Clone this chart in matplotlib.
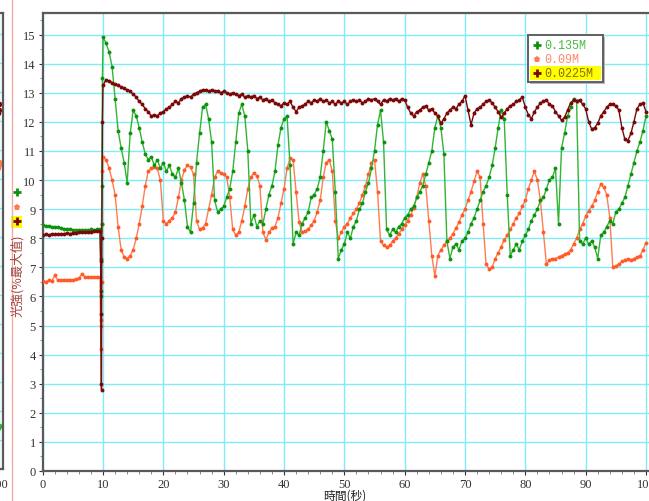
import numpy as np
import matplotlib.pyplot as plt
from matplotlib.patches import Rectangle
from matplotlib.lines import Line2D

######################################################################
# data: light intensity (% of max) vs time (s), three concentrations
######################################################################
t_pre = np.arange(0, 9.6, 0.5)
t_jump = [9.6, 9.65, 9.7, 9.75, 9.8, 9.9]
t_post = np.arange(10, 100.01, 0.5)

labels = ['0.135M', '0.09M', '0.0225M']

green_pre = [8.45, 8.43, 8.42, 8.40, 8.38, 8.37, 8.35, 8.33, 8.32, 8.30,
             8.29, 8.28, 8.27, 8.28, 8.29, 8.28, 8.30, 8.29, 8.30, 8.31]
green_jump = [7.3, 6.2, 6.0, 8.5, 9.8, 13.5]
green_post = [14.9, 14.7, 14.4, 13.9, 12.8, 11.7, 11.1, 10.6, 9.9, 11.6,
              12.4, 12.2, 11.8, 11.3, 10.9, 10.7, 10.8, 10.5, 10.7, 10.4,
              10.6, 10.3, 10.5, 10.2, 10.1, 10.4, 9.9, 9.3, 8.4, 8.2,
              9.2, 10.6, 11.6, 12.5, 12.6, 12.1, 11.3, 9.3, 8.9, 9.0,
              9.1, 9.4, 9.7, 10.3, 11.3, 12.3, 12.6, 12.2, 11.0, 8.5,
              8.8, 8.4, 8.6, 8.5, 9.0, 9.5, 9.8, 10.3, 11.2, 11.8,
              12.1, 12.2, 10.5, 7.8, 8.2, 8.1, 8.5, 8.7, 8.9, 9.4,
              9.5, 9.7, 10.1, 11.0, 12.0, 11.7, 11.4, 9.6, 7.3, 7.6,
              7.8, 8.2, 8.0, 8.4, 8.6, 9.0, 9.2, 9.6, 9.9, 10.4,
              11.0, 11.9, 12.4, 11.3, 8.3, 8.1, 8.3, 8.2, 8.4, 8.5,
              8.7, 8.8, 9.0, 9.1, 9.4, 9.6, 9.8, 10.2, 10.6, 11.0,
              11.8, 12.2, 11.8, 10.9, 7.9, 7.3, 7.7, 7.8, 7.6, 7.9,
              8.0, 8.2, 8.5, 8.7, 9.0, 9.3, 9.6, 9.8, 10.1, 10.5,
              11.1, 11.8, 12.4, 12.1, 9.5, 7.4, 7.6, 7.8, 7.6, 7.9,
              8.1, 8.3, 8.6, 8.8, 9.0, 9.3, 9.4, 9.7, 10.0, 10.1,
              10.4, 8.5, 11.1, 11.6, 12.2, 12.5, 12.8, 12.7, 7.9, 7.8,
              8.0, 7.8, 7.9, 7.7, 7.3, 8.1, 8.2, 8.4, 8.6, 8.5,
              8.9, 9.0, 9.2, 9.4, 9.8, 10.2, 10.6, 11.0, 11.3, 11.7,
              12.2]

orange_pre = [6.52, 6.50, 6.55, 6.52, 6.72, 6.56, 6.58, 6.55, 6.57, 6.58,
              6.56, 6.60, 6.62, 6.78, 6.66, 6.65, 6.66, 6.67, 6.66, 6.67]
orange_jump = [5.2, 4.2, 5.0, 6.5, 8.5, 10.3]
orange_post = [10.8, 10.7, 10.4, 10.0, 9.5, 8.4, 7.6, 7.35, 7.3, 7.4,
               7.6, 8.0, 8.5, 9.1, 9.8, 10.3, 10.4, 10.45, 10.4, 10.0,
               8.6, 8.5, 8.6, 8.7, 8.9, 9.4, 10.0, 10.35, 10.5, 10.45,
               10.2, 8.6, 8.3, 8.35, 8.5, 9.0, 9.5, 10.1, 10.3, 10.25,
               10.2, 10.1, 9.4, 8.3, 8.1, 8.2, 8.6, 9.1, 9.7, 10.1,
               10.25, 10.15, 9.8, 8.2, 7.95, 8.2, 8.35, 8.4, 8.7, 9.2,
               9.7, 10.4, 10.75, 10.7, 9.6, 8.55, 8.2, 8.25, 8.3, 8.45,
               8.6, 8.9, 9.3, 10.1, 10.6, 10.7, 10.3, 8.6, 8.0, 8.2,
               8.4, 8.5, 8.7, 8.85, 9.0, 9.2, 9.5, 9.8, 10.2, 10.6,
               10.7, 9.6, 7.9, 7.75, 7.7, 7.75, 7.9, 8.0, 8.15, 8.3,
               8.45, 8.6, 8.8, 9.05, 9.4, 9.9, 10.2, 9.8, 8.6, 7.4,
               6.7, 7.4, 7.6, 7.75, 7.9, 8.0, 8.15, 8.35, 8.55, 8.8,
               9.0, 9.3, 9.6, 9.95, 10.3, 10.1, 8.5, 7.1, 6.95, 7.0,
               7.3, 7.5, 7.7, 7.95, 8.1, 8.3, 8.5, 8.7, 8.85, 9.1,
               9.3, 9.7, 10.0, 10.3, 10.0, 9.3, 8.2, 7.1, 7.25, 7.3,
               7.3, 7.35, 7.4, 7.45, 7.5, 7.6, 7.8, 8.0, 8.3, 8.5,
               8.75, 8.95, 9.1, 9.3, 9.6, 9.85, 9.75, 9.5, 8.7, 7.0,
               7.05, 7.1, 7.2, 7.25, 7.3, 7.25, 7.3, 7.35, 7.4, 7.6,
               7.85]

red_pre = [8.12, 8.13, 8.12, 8.14, 8.13, 8.15, 8.14, 8.16, 8.17, 8.16,
           8.18, 8.19, 8.20, 8.21, 8.21, 8.22, 8.23, 8.24, 8.24, 8.25]
red_jump = [7.2, 5.4, 3.0, 2.8, 8.0, 12.0]
red_post = [13.25, 13.45, 13.4, 13.35, 13.3, 13.25, 13.2, 13.15, 13.1, 13.05,
            12.95, 12.85, 12.7, 12.6, 12.45, 12.35, 12.2, 12.25, 12.2, 12.3,
            12.35, 12.45, 12.5, 12.6, 12.7, 12.65, 12.8, 12.85, 12.9, 12.85,
            12.95, 13.0, 13.05, 13.1, 13.1, 13.05, 13.1, 13.05, 13.05, 13.0,
            13.05, 13.0, 12.95, 13.0, 12.95, 12.9, 12.95, 12.85, 12.9, 12.85,
            12.9, 12.8, 12.85, 12.75, 12.8, 12.7, 12.75, 12.65, 12.6, 12.55,
            12.65, 12.6, 12.7, 12.5, 12.35, 12.5, 12.55, 12.6, 12.7, 12.65,
            12.75, 12.7, 12.8, 12.7, 12.75, 12.65, 12.7, 12.6, 12.7, 12.65,
            12.7, 12.6, 12.7, 12.75, 12.7, 12.75, 12.65, 12.7, 12.8, 12.75,
            12.8, 12.7, 12.6, 12.75, 12.7, 12.8, 12.75, 12.8, 12.7, 12.8,
            12.75, 12.5, 12.3, 12.2, 12.35, 12.4, 12.5, 12.55, 12.4, 12.45,
            12.3, 12.2, 11.95, 12.1, 12.3, 12.4, 12.5, 12.45, 12.6, 12.7,
            12.9, 12.4, 11.9, 12.3, 12.45, 12.5, 12.6, 12.7, 12.75, 12.65,
            12.5, 12.35, 12.15, 12.3, 12.45, 12.55, 12.6, 12.7, 12.75, 12.85,
            12.5, 12.25, 12.1, 12.35, 12.5, 12.65, 12.7, 12.75, 12.6, 12.55,
            12.35, 12.2, 12.05, 12.15, 12.4, 12.65, 12.75, 12.7, 12.75, 12.6,
            12.45, 12.0, 11.75, 11.8, 11.95, 12.2, 12.35, 12.5, 12.6, 12.6,
            12.55, 12.4, 11.8, 11.4, 11.35, 11.6, 12.0, 12.45, 12.6, 12.65,
            12.35]

# right edge of the neighbouring (cropped) chart
prev_t = [99.0, 99.5, 100.0]
prev_red = [12.3, 12.6, 12.4]
prev_orange = [10.4, 10.5, 10.6]
prev_green = [1.4, 1.5, 1.5]

GREEN = '#33b433'
GREEN_DARK = '#0e920e'
ORANGE = '#ff7c50'
ORANGE_DARK = '#ff5a28'
RED = '#7a0808'
GRID = '#80ecf6'
SPINE = '#5a5a5a'

W, H = 649, 502
fig = plt.figure(figsize=(W / 100, H / 100), dpi=100)

ax_left, ax_bottom = 42.7 / W, 30 / H
ax_height = 458 / H
ax = fig.add_axes([ax_left, ax_bottom, 1 - ax_left, ax_height])

######################################################################
# cropped neighbour chart at far left
######################################################################
ax0 = fig.add_axes([-0.2, 32 / H, 0.2 + 3.3 / W, 456 / H])
ax0.set_xlim(0, 103)
ax0.set_ylim(0, 15.74)
ax0.set_xticks([100])
ax0.set_yticks(range(0, 16))
ax0.set_yticklabels([])
ax0.grid(True, color=GRID, lw=1.0)
ax0.set_axisbelow(True)
for s in ax0.spines.values():
    s.set_color(SPINE)
    s.set_linewidth(1.6)
ax0.tick_params(labelsize=9, colors='#333333', length=3)
for lab in ax0.get_xticklabels():
    lab.set_family('Liberation Serif')
ax0.plot(prev_t, prev_red, color=RED, marker='o', ms=3, lw=1)
ax0.plot(prev_t, prev_orange, color=ORANGE, marker='o', ms=3, lw=1)
ax0.plot(prev_t, prev_green, color=GREEN, marker='o', ms=3, lw=1)

# pink separator line
fig.add_artist(Line2D([12 / W, 12 / W], [0, 1], color='#f4a8a8', lw=1.0,
                      transform=fig.transFigure))

######################################################################
# main chart
######################################################################
t_all = np.concatenate([t_pre, t_jump, t_post])
series = [
    (np.concatenate([orange_pre, orange_jump, orange_post]), ORANGE, ORANGE_DARK),
    (np.concatenate([green_pre, green_jump, green_post]), GREEN, GREEN_DARK),
    (np.concatenate([red_pre, red_jump, red_post]), RED, RED),
]
for vals, c, mc in series:
    ax.plot(t_all, vals, color=c, lw=1.0, marker='o', ms=2.8,
            markerfacecolor=mc, markeredgewidth=0, zorder=3)

ax.set_xlim(0, 100.5)
ax.set_ylim(0, 15.74)
ax.set_xticks(range(0, 101, 10))
ax.set_yticks(range(0, 16))
ax.set_xticks(np.arange(0, 101, 2), minor=True)
ax.set_yticks(np.arange(0, 15.6, 0.5), minor=True)
ax.grid(True, which='major', color=GRID, lw=1.0)
ax.set_axisbelow(True)
ax.tick_params(which='major', labelsize=9, colors='#333333', length=3, pad=2)
ax.tick_params(which='minor', colors='#777777', length=2)
for lab in ax.get_xticklabels() + ax.get_yticklabels():
    lab.set_family('Liberation Serif')
for name in ['left', 'bottom', 'top']:
    ax.spines[name].set_color(SPINE)
    ax.spines[name].set_linewidth(1.6)
ax.spines['right'].set_visible(False)

cjk = ['Noto Sans CJK TC', 'DejaVu Sans']
fig.text(345 / W, 1 - 496 / H, '時間(秒)', family=cjk, fontsize=8.5,
         color='#222222', ha='center', va='center')
fig.text(17 / W, 1 - 276 / H, '光強(%最大值)', family=cjk, fontsize=9,
         color='#a0443c', rotation=90, ha='center', va='center')

# series keys next to the y label
fig.add_artist(Rectangle((11 / W, 1 - 229 / H), 11 / W, 12 / H,
                         facecolor='#ffff00', edgecolor='none',
                         transform=fig.transFigure))
key_marks = [(193, GREEN_DARK, '+'), (208, ORANGE, 'p'), (222, RED, '+')]
for py, c, m in key_marks:
    fig.add_artist(Line2D([16.5 / W], [1 - py / H], marker=m, color=c,
                          ms=6 if m == '+' else 5, mew=2 if m == '+' else 0,
                          transform=fig.transFigure))

######################################################################
# legend box (drawn by hand to get the highlighted row)
######################################################################
def axx(px):
    return (px - 42.7) / 606.3


def axy(py):
    return (472 - py) / 458


ax.add_patch(Rectangle((axx(530), axy(85)), axx(605) - axx(530), axy(38) - axy(85),
                       transform=ax.transAxes, facecolor='#b8b8b8',
                       edgecolor='none', zorder=9, clip_on=False))
ax.add_patch(Rectangle((axx(528), axy(83)), axx(603) - axx(528), axy(36) - axy(83),
                       transform=ax.transAxes, facecolor='white',
                       edgecolor='#606060', lw=1.4, zorder=10, clip_on=False))
ax.add_patch(Rectangle((axx(530), axy(81)), axx(601) - axx(530), axy(67) - axy(81),
                       transform=ax.transAxes, facecolor='#ffff00',
                       edgecolor='none', zorder=11, clip_on=False))

rows = [(46, GREEN_DARK, '+', '#44bb44'),
        (60, ORANGE, 'p', '#ff8866'),
        (74, RED, '+', '#8a6a10')]
for (py, mc, m, tc), lab in zip(rows, labels):
    ax.plot([axx(537)], [axy(py)], marker=m, color=mc,
            ms=6 if m == '+' else 5, mew=2 if m == '+' else 0,
            transform=ax.transAxes, zorder=12, clip_on=False)
    ax.text(axx(544), axy(py), lab, color=tc, family='Liberation Mono',
            fontsize=8.5, ha='left', va='center', transform=ax.transAxes,
            zorder=12)

fig.savefig('out.png', dpi=100)
